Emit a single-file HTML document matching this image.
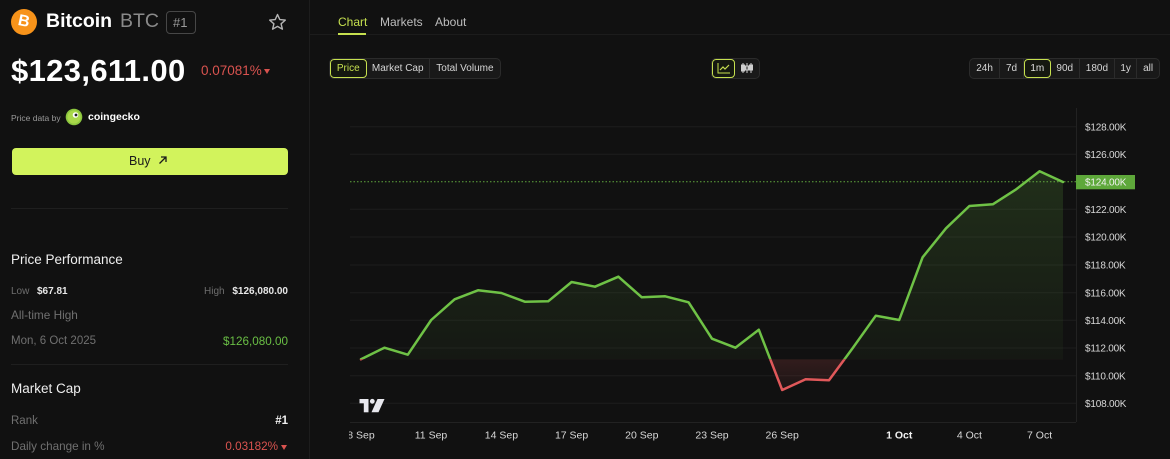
<!DOCTYPE html>
<html><head><meta charset="utf-8"><style>
*{margin:0;padding:0;box-sizing:border-box}
html,body{width:1170px;height:459px;background:#111111;overflow:hidden;font-family:"Liberation Sans",Arial,sans-serif}
.t{position:absolute;white-space:nowrap;line-height:1}
.g{position:absolute;display:flex;background:#191919;border:1px solid #2b2b2b;border-radius:5px;overflow:hidden}
.g div{height:100%;display:flex;align-items:center;justify-content:center;color:#d6d6d6;border-right:1px solid #2b2b2b;font-size:10px;padding-top:1px}
.g div:last-child{border-right:none}
.g .on{border:1px solid #c6e04f;border-radius:4px;color:#c6e04f;background:#151810}
</style></head><body>

<!-- left panel -->
<div style="position:absolute;left:309px;top:0;width:1px;height:459px;background:#1d1d1d"></div>
<div style="position:absolute;left:11px;top:9px;width:26px;height:26px;border-radius:50%;background:#f7931a"></div>
<div class="t" style="left:18px;top:14px;font-size:16px;font-weight:bold;color:#fff;transform:rotate(12deg)">B</div>
<div class="t" style="left:46px;top:12px;font-size:19.5px;font-weight:bold;color:#fff">Bitcoin</div>
<div class="t" style="left:120px;top:12px;font-size:19.5px;color:#8a8a8a">BTC</div>
<div style="position:absolute;left:166px;top:11px;width:30px;height:23px;border:1px solid #474747;border-radius:4px"></div>
<div class="t" style="left:173px;top:16px;font-size:13px;color:#9a9a9a">#1</div>
<svg style="position:absolute;left:268px;top:13px" width="19" height="18" viewBox="0 0 19 18"><polygon points="9.5,1.5 11.8,6.6 17.3,7.1 13.1,10.8 14.4,16.2 9.5,13.4 4.6,16.2 5.9,10.8 1.7,7.1 7.2,6.6" fill="none" stroke="#b5b5b5" stroke-width="1.4" stroke-linejoin="round"/></svg>

<div class="t" style="left:11px;top:54.8px;font-size:31px;font-weight:bold;color:#fff;letter-spacing:0.35px">$123,611.00</div>
<div class="t" style="left:201px;top:64px;font-size:13.5px;color:#d9534f">0.07081%</div>
<svg style="position:absolute;left:264px;top:69px" width="7" height="6"><polygon points="0,0 6,0 3,5" fill="#d9534f"/></svg>

<div class="t" style="left:11px;top:114px;font-size:8.5px;color:#9a9a9a">Price data by</div>
<svg style="position:absolute;left:65px;top:108px" width="18" height="18"><circle cx="9" cy="9" r="8.3" fill="#8cc63f"/><circle cx="9" cy="9" r="6.6" fill="#a9d84a"/><circle cx="10.5" cy="7" r="2.8" fill="#fff"/><circle cx="11" cy="7" r="1.4" fill="#222"/></svg>
<div class="t" style="left:88px;top:112px;font-size:10.5px;font-weight:bold;color:#fff">coingecko</div>

<div style="position:absolute;left:11.5px;top:148px;width:276px;height:27px;border-radius:4px;background:#d2f35c"></div>
<div class="t" style="left:129px;top:155px;font-size:12.5px;color:#1b1b1b">Buy</div>
<svg style="position:absolute;left:158px;top:155px" width="10" height="10"><path d="M1.5,8.5 L8,2 M3,2 L8,2 L8,7" fill="none" stroke="#1b1b1b" stroke-width="1.3"/></svg>

<div style="position:absolute;left:11px;top:208px;width:277px;height:1px;background:#1f1f1f"></div>
<div class="t" style="left:11px;top:253px;font-size:13.5px;color:#efefef">Price Performance</div>
<div class="t" style="left:11px;top:286.5px;font-size:10px;color:#6e6e6e">Low</div>
<div class="t" style="left:37px;top:286.5px;font-size:10px;font-weight:bold;color:#e8e8e8">$67.81</div>
<div class="t" style="left:204px;top:286.5px;font-size:10px;color:#6e6e6e">High</div>
<div class="t" style="right:882px;top:286.5px;font-size:10px;font-weight:bold;color:#e8e8e8">$126,080.00</div>
<div class="t" style="left:11px;top:309.5px;font-size:11.8px;color:#707070">All-time High</div>
<div class="t" style="left:11px;top:335.5px;font-size:11.5px;color:#707070">Mon, 6 Oct 2025</div>
<div class="t" style="right:882px;top:335.5px;font-size:11.7px;color:#6abf45">$126,080.00</div>
<div style="position:absolute;left:11px;top:364px;width:277px;height:1px;background:#1f1f1f"></div>
<div class="t" style="left:11px;top:382px;font-size:13.5px;color:#efefef">Market Cap</div>
<div class="t" style="left:11px;top:415.5px;font-size:11.5px;color:#707070">Rank</div>
<div class="t" style="right:882px;top:415.5px;font-size:11.5px;font-weight:bold;color:#efefef">#1</div>
<div class="t" style="left:11px;top:441px;font-size:11.7px;color:#707070">Daily change in %</div>
<div class="t" style="right:892px;top:441px;font-size:11.7px;color:#d9534f">0.03182%</div>
<svg style="position:absolute;left:281px;top:445px" width="7" height="6"><polygon points="0,0 6,0 3,5" fill="#d9534f"/></svg>

<!-- tabs -->
<div style="position:absolute;left:310px;top:34px;width:860px;height:1px;background:#1c1c1c"></div>
<div class="t" style="left:338px;top:16px;font-size:12px;color:#c6e04f">Chart</div>
<div style="position:absolute;left:338px;top:32.5px;width:28px;height:2px;background:#c6e04f"></div>
<div class="t" style="left:380px;top:16px;font-size:12px;color:#bdbdbd">Markets</div>
<div class="t" style="left:435px;top:16px;font-size:12px;color:#bdbdbd">About</div>

<!-- segment controls -->
<div class="g" style="left:329px;top:58px;width:172px;height:20.5px">
  <div class="on" style="width:37px">Price</div>
  <div style="width:64px">Market Cap</div>
  <div style="width:71px">Total Volume</div>
</div>
<div class="g" style="left:711px;top:58px;width:49px;height:20.5px">
  <div class="on" style="width:24px;padding-top:0"><svg width="14" height="12"><path d="M1,1 L1,11 L13,11" fill="none" stroke="#c6e04f" stroke-width="1"/><path d="M3,8 L6,5 L8,7 L12,3" fill="none" stroke="#c6e04f" stroke-width="1.2"/></svg></div>
  <div style="width:25px;padding-top:0"><svg width="14" height="12"><g stroke="#cfcfcf" stroke-width="1" fill="none"><line x1="3" y1="1" x2="3" y2="11"/><rect x="1.5" y="3" width="3" height="6" fill="#cfcfcf"/><line x1="7" y1="1" x2="7" y2="11"/><rect x="5.5" y="4" width="3" height="4"/><line x1="11" y1="1" x2="11" y2="11"/><rect x="9.5" y="3" width="3" height="5" fill="#cfcfcf"/></g></svg></div>
</div>
<div class="g" style="left:969px;top:58px;width:191px;height:20.5px">
  <div style="width:30.5px">24h</div>
  <div style="width:24px">7d</div>
  <div class="on" style="width:27px;color:#e0e0e0">1m</div>
  <div style="width:29.5px">90d</div>
  <div style="width:35.5px">180d</div>
  <div style="width:22.5px">1y</div>
  <div style="width:22px">all</div>
</div>

<!-- chart -->
<svg style="position:absolute;left:0;top:0" width="1170" height="459" viewBox="0 0 1170 459">
  <defs>
    <clipPath id="above"><rect x="0" y="0" width="1170" height="359.3"/></clipPath>
    <clipPath id="below"><rect x="0" y="359.3" width="1170" height="100"/></clipPath>
    <linearGradient id="gf" gradientUnits="userSpaceOnUse" x1="0" y1="171" x2="0" y2="359.3">
      <stop offset="0" stop-color="#6fc246" stop-opacity="0.17"/>
      <stop offset="1" stop-color="#6fc246" stop-opacity="0.04"/>
    </linearGradient>
    <linearGradient id="rf" gradientUnits="userSpaceOnUse" x1="0" y1="359.3" x2="0" y2="390">
      <stop offset="0" stop-color="#e0585a" stop-opacity="0.16"/>
      <stop offset="1" stop-color="#e0585a" stop-opacity="0.05"/>
    </linearGradient>
    <clipPath id="xc"><rect x="349" y="425" width="727" height="20"/></clipPath>
  </defs>
  <g stroke="#1d1d1d" stroke-width="1">
    <line x1="350" y1="126.7" x2="1076" y2="126.7"/>
    <line x1="350" y1="154.3" x2="1076" y2="154.3"/>
    <line x1="350" y1="209.3" x2="1076" y2="209.3"/>
    <line x1="350" y1="237" x2="1076" y2="237"/>
    <line x1="350" y1="265" x2="1076" y2="265"/>
    <line x1="350" y1="292.7" x2="1076" y2="292.7"/>
    <line x1="350" y1="320.3" x2="1076" y2="320.3"/>
    <line x1="350" y1="348" x2="1076" y2="348"/>
    <line x1="350" y1="375.7" x2="1076" y2="375.7"/>
    <line x1="350" y1="403.3" x2="1076" y2="403.3"/>
  </g>
  <line x1="1076.5" y1="108" x2="1076.5" y2="422" stroke="#222" stroke-width="1"/>
  <line x1="350" y1="422.5" x2="1076" y2="422.5" stroke="#222" stroke-width="1"/>

  <path clip-path="url(#above)" fill="url(#gf)" d="M361,359.3 L384.4,347.7 L407.8,354.7 L431.2,320 L454.6,299.3 L478,290.3 L501.4,293 L524.8,301.7 L548.2,301.3 L571.6,282 L595,286.7 L618.4,276.7 L641.8,297.3 L665.2,296.3 L688.6,302.3 L712,338.7 L735.4,347.7 L758.8,329.7 L782.2,390 L805.6,379.3 L829,380.3 L852.4,348.5 L875.8,315.7 L899.2,320 L922.6,257.3 L946,228.3 L969.4,206 L992.8,204.3 L1016.2,189.3 L1039.6,171.3 L1063,182 L1063,359.3 Z"/>
  <path clip-path="url(#below)" fill="url(#rf)" d="M361,359.3 L384.4,347.7 L407.8,354.7 L431.2,320 L454.6,299.3 L478,290.3 L501.4,293 L524.8,301.7 L548.2,301.3 L571.6,282 L595,286.7 L618.4,276.7 L641.8,297.3 L665.2,296.3 L688.6,302.3 L712,338.7 L735.4,347.7 L758.8,329.7 L782.2,390 L805.6,379.3 L829,380.3 L852.4,348.5 L875.8,315.7 L899.2,320 L922.6,257.3 L946,228.3 L969.4,206 L992.8,204.3 L1016.2,189.3 L1039.6,171.3 L1063,182 L1063,359.3 Z"/>

  <line x1="350" y1="181.7" x2="1076" y2="181.7" stroke="#6fc246" stroke-width="1" stroke-dasharray="1.5 2" opacity="0.85"/>

  <path clip-path="url(#above)" fill="none" stroke="#6fc246" stroke-width="2.5" stroke-linejoin="round" stroke-linecap="round" d="M361,359.3 L384.4,347.7 L407.8,354.7 L431.2,320 L454.6,299.3 L478,290.3 L501.4,293 L524.8,301.7 L548.2,301.3 L571.6,282 L595,286.7 L618.4,276.7 L641.8,297.3 L665.2,296.3 L688.6,302.3 L712,338.7 L735.4,347.7 L758.8,329.7 L782.2,390 L805.6,379.3 L829,380.3 L852.4,348.5 L875.8,315.7 L899.2,320 L922.6,257.3 L946,228.3 L969.4,206 L992.8,204.3 L1016.2,189.3 L1039.6,171.3 L1063,182"/>
  <path clip-path="url(#below)" fill="none" stroke="#e0585a" stroke-width="2.5" stroke-linejoin="round" stroke-linecap="round" d="M361,359.3 L384.4,347.7 L407.8,354.7 L431.2,320 L454.6,299.3 L478,290.3 L501.4,293 L524.8,301.7 L548.2,301.3 L571.6,282 L595,286.7 L618.4,276.7 L641.8,297.3 L665.2,296.3 L688.6,302.3 L712,338.7 L735.4,347.7 L758.8,329.7 L782.2,390 L805.6,379.3 L829,380.3 L852.4,348.5 L875.8,315.7 L899.2,320 L922.6,257.3 L946,228.3 L969.4,206 L992.8,204.3 L1016.2,189.3 L1039.6,171.3 L1063,182"/>

  <!-- TV logo -->
  <g fill="#e8e8ee">
    <rect x="359.5" y="399" width="9" height="4.3"/>
    <rect x="363.8" y="399" width="4.7" height="13.3"/>
    <circle cx="372.3" cy="401.3" r="2.4"/>
    <polygon points="377.5,399 384.5,399 378.5,412.3 371.5,412.3"/>
  </g>

  <!-- y labels -->
  <g font-family="Liberation Sans, Arial, sans-serif" font-size="10" fill="#d8d8d8" letter-spacing="-0.2">
    <text x="1085" y="130.3">$128.00K</text>
    <text x="1085" y="157.9">$126.00K</text>
    <text x="1085" y="212.9">$122.00K</text>
    <text x="1085" y="240.6">$120.00K</text>
    <text x="1085" y="268.6">$118.00K</text>
    <text x="1085" y="296.3">$116.00K</text>
    <text x="1085" y="323.9">$114.00K</text>
    <text x="1085" y="351.6">$112.00K</text>
    <text x="1085" y="379.3">$110.00K</text>
    <text x="1085" y="406.9">$108.00K</text>
  </g>
  <rect x="1076" y="175" width="59" height="14.3" fill="#5ea83a"/>
  <text x="1085" y="185.4" font-family="Liberation Sans, Arial, sans-serif" font-size="10" fill="#f2f2f2" letter-spacing="-0.2">$124.00K</text>

  <!-- x labels -->
  <g clip-path="url(#xc)" font-family="Liberation Sans, Arial, sans-serif" font-size="10.5" fill="#d8d8d8" text-anchor="middle">
    <text x="361" y="438.3">8 Sep</text>
    <text x="431" y="438.3">11 Sep</text>
    <text x="501.4" y="438.3">14 Sep</text>
    <text x="571.6" y="438.3">17 Sep</text>
    <text x="641.8" y="438.3">20 Sep</text>
    <text x="712" y="438.3">23 Sep</text>
    <text x="782.2" y="438.3">26 Sep</text>
    <text x="899.2" y="438.3" font-weight="bold" fill="#f2f2f2">1 Oct</text>
    <text x="969.4" y="438.3">4 Oct</text>
    <text x="1039.6" y="438.3">7 Oct</text>
  </g>
</svg>
</body></html>
